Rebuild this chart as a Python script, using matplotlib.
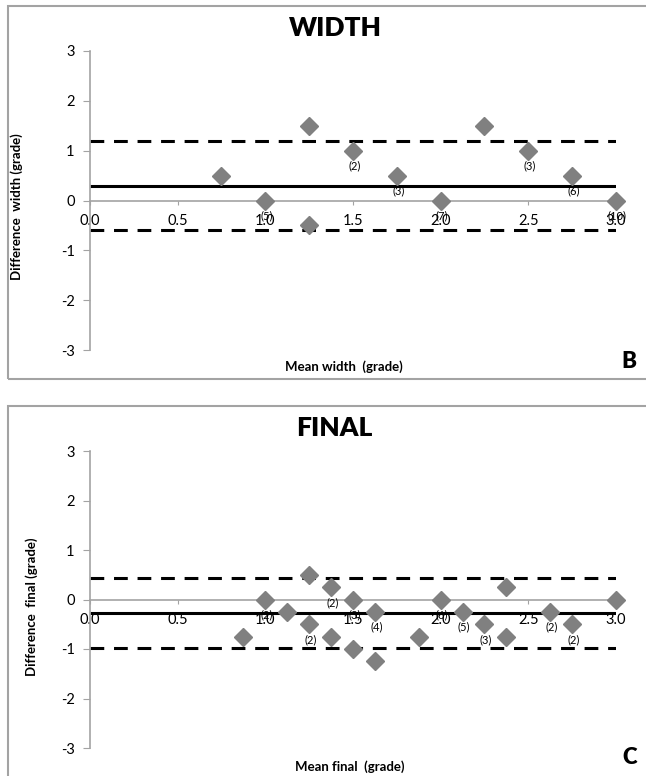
"""Bland-Altman style agreement plots for width and final grades."""
import matplotlib

matplotlib.use("Agg")
import matplotlib.pyplot as plt
from matplotlib.patches import Rectangle

plt.rcParams["font.family"] = ["Lato", "DejaVu Sans"]

# ── data ────────────────────────────────────────────────────────────────

width_x = [0.75, 1.0, 1.25, 1.25, 1.5, 1.75, 2.0, 2.25, 2.5, 2.75, 3.0]
width_y = [0.5, 0.0, 1.5, -0.5, 1.0, 0.5, 0.0, 1.5, 1.0, 0.5, 0.0]
width_n = ["", "(5)", "", "", "(2)", "(3)", "(7)", "", "(3)", "(6)", "(10)"]
width_mean = 0.3
width_limits = [1.2, -0.6]

final_x = [0.875, 1.0, 1.125, 1.25, 1.25, 1.375, 1.375, 1.5, 1.5, 1.625,
           1.625, 1.875, 2.0, 2.125, 2.25, 2.375, 2.375, 2.625, 2.75, 3.0]
final_y = [-0.75, 0.0, -0.25, 0.5, -0.5, 0.25, -0.75, 0.0, -1.0, -0.25,
           -1.25, -0.75, 0.0, -0.25, -0.5, 0.25, -0.75, -0.25, -0.5, 0.0]
final_n = ["", "(2)", "", "", "(2)", "(2)", "", "(3)", "", "(4)",
           "", "", "(6)", "(5)", "(3)", "", "", "(2)", "(2)", ""]
final_mean = -0.27
final_limits = [0.43, -0.97]

x_ticks = [0.0, 0.5, 1.0, 1.5, 2.0, 2.5, 3.0]
y_ticks = [-3, -2, -1, 0, 1, 2, 3]

GRAY = "#a3a3a3"
MARK = "#808080"


def draw_panel(fig, rect, xs, ys, counts, mean, limits):
    ax = fig.add_axes(rect)
    ax.set_xlim(0, 3)
    ax.set_ylim(-3, 3)
    for side in ("top", "right"):
        ax.spines[side].set_visible(False)
    ax.spines["bottom"].set_position(("data", 0))
    for side in ("bottom", "left"):
        ax.spines[side].set_color(GRAY)
        ax.spines[side].set_linewidth(1.2)
    ax.set_xticks(x_ticks)
    ax.set_xticklabels([f"{t:.1f}" for t in x_ticks])
    ax.set_yticks(y_ticks)
    ax.set_yticklabels([str(t) for t in y_ticks])
    ax.tick_params(axis="x", direction="out", length=3, color=GRAY,
                   labelsize=10.5, pad=7)
    ax.tick_params(axis="y", direction="out", length=5, color=GRAY,
                   labelsize=10.5, pad=6)
    ax.patch.set_alpha(0)

    ax.plot([0, 3], [mean, mean], color="black", lw=2.2, solid_capstyle="butt")
    for lim in limits:
        ax.plot([0, 3], [lim, lim], color="black", lw=2.2,
                ls=(0, (4.5, 3.2)))
    ax.plot(xs, ys, ls="none", marker="D", ms=9, color=MARK,
            markeredgecolor=MARK, clip_on=False, zorder=5)
    for x, y, n in zip(xs, ys, counts):
        if n:
            ax.annotate(n, (x, y), xytext=(1, -11), textcoords="offset points",
                        ha="center", va="center", fontsize=8, zorder=6)
    return ax


fig = plt.figure(figsize=(6.46, 7.76), dpi=100)
W, H = 646, 776

# panel frames
for y0, y1 in ((6, 379), (406, 790)):
    fig.patches.append(Rectangle((8 / W, 1 - y1 / H), 1.0, (y1 - y0) / H,
                                 transform=fig.transFigure, fill=False,
                                 edgecolor=GRAY, lw=1.5))

draw_panel(fig, [90 / W, 1 - 350 / H, 526 / W, 299 / H],
           width_x, width_y, width_n, width_mean, width_limits)
draw_panel(fig, [90 / W, 1 - 748 / H, 526 / W, 297 / H],
           final_x, final_y, final_n, final_mean, final_limits)

fig.text(335 / W, 1 - 28 / H, "WIDTH", fontsize=19, fontweight="heavy",
         ha="center", va="center")
fig.text(334 / W, 1 - 428 / H, "FINAL", fontsize=19, fontweight="heavy",
         ha="center", va="center")
fig.text(344 / W, 1 - 367 / H, "Mean width  (grade)", fontsize=9.5,
         fontweight="bold", ha="center", va="center")
fig.text(350 / W, 1 - 767 / H, "Mean final  (grade)", fontsize=9.5,
         fontweight="bold", ha="center", va="center")
fig.text(17 / W, 1 - 207 / H, "Difference  width (grade)", fontsize=9.5,
         fontweight="bold", rotation=90, ha="center", va="center")
fig.text(32 / W, 1 - 607 / H, "Difference  final (grade)", fontsize=9.5,
         fontweight="bold", rotation=90, ha="center", va="center")
fig.text(629 / W, 1 - 362 / H, "B", fontsize=16, fontweight="heavy",
         ha="center", va="center")
fig.text(630 / W, 1 - 758 / H, "C", fontsize=16, fontweight="heavy",
         ha="center", va="center")

fig.savefig("out.png", dpi=100)
